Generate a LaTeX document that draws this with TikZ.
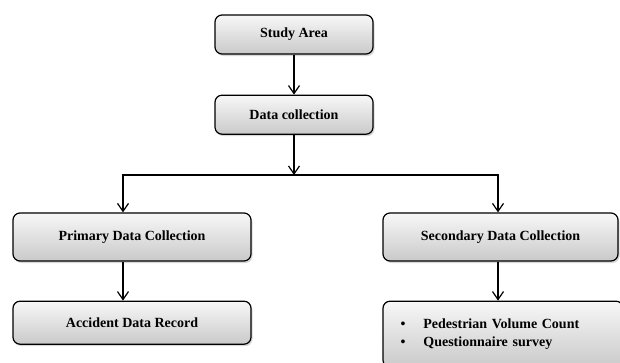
\documentclass[tikz,border=0pt]{standalone}
\usepackage{fontspec}
\setmainfont{Liberation Serif}
\usetikzlibrary{positioning,shadows,arrows.meta}

\begin{document}
\begin{tikzpicture}[
    x=1pt, y=1pt,
    node distance=40pt,
    box/.style={draw, line width=1.2pt, rounded corners=7pt, minimum height=39pt,
                align=center, font=\fontsize{14}{18}\selectfont\bfseries,
                top color=gray!6, bottom color=gray!42,
                drop shadow={shadow xshift=1.5pt, shadow yshift=-2pt,
                             fill=gray!60, opacity=0.5}},
    arrow/.style={-{Straight Barb[length=8pt, width=11pt]}, line width=1.2pt},
    link/.style={line width=1.2pt}
]
    \useasboundingbox (0,0) rectangle (620,-362);

    % Main vertical flow (top)
    \node[box, minimum width=158pt] (study) at (294,-34.5) {Study Area};
    \node[box, minimum width=158pt, below=40pt of study] (datacoll) {Data collection};

    % Two branches
    \node[box, minimum width=238pt, minimum height=48pt] (primary) at (132,-237)
        {Primary Data Collection};
    \node[box, minimum width=235pt, minimum height=48pt] (secondary) at (500.5,-237)
        {Secondary Data Collection};
    \node[box, minimum width=238pt, minimum height=43pt, below=39pt of primary] (accident)
        {Accident Data Record};
    \node[box, text width=205pt, inner xsep=17.5pt, minimum height=66pt, align=left,
          below=39pt of secondary.south west, anchor=north west] (survey)
        {\textbullet\hspace{18pt}Pedestrian Volume Count\\
         \textbullet\hspace{18pt}Questionnaire survey};

    % Bus line: fixed x-coordinates of the branch arrows
    \coordinate (busL) at (123,-175);
    \coordinate (busR) at (498,-175);

    \draw[arrow] (study) -- (datacoll);
    \draw[arrow] (datacoll) -- (datacoll |- busL);
    \draw[arrow] (datacoll.south |- busL) -- (busL) -- (busL |- primary.north);
    \draw[arrow] (datacoll.south |- busR) -- (busR) -- (busR |- secondary.north);
    \draw[arrow] (primary.south -| busL) -- (accident.north -| busL);
    \draw[arrow] (secondary.south -| busR) -- (survey.north -| busR);
\end{tikzpicture}
\end{document}
